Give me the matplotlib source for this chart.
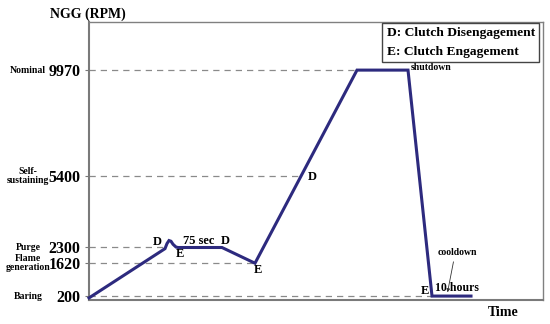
import matplotlib
matplotlib.use("Agg")
import matplotlib.pyplot as plt
from matplotlib.patches import Rectangle

plt.rcParams['font.family'] = ['Liberation Serif', 'DejaVu Serif']
plt.rcParams['font.weight'] = 'bold'

# Data
time = [0, 76, 78, 80, 82, 84, 87, 89, 133, 166, 268, 319, 343, 382]
ngg = [120, 2250, 2470, 2600, 2570, 2440, 2320, 2300, 2300, 1620, 9970, 9970, 200, 200]

levels = [9970, 5400, 2300, 1620, 200]
level_names = ["Nominal", "Self-\nsustaining", "Purge", "Flame\ngeneration", "Baring"]
level_dash_end = [268, 212, 77, 166, 343]

events = [("D", 68, 2535), ("E", 91, 2016), ("D", 136, 2580), ("E", 169, 1324),
          ("D", 223, 5345), ("E", 336, 416)]

line_color = "#2d2a7e"

fig = plt.figure(figsize=(5.5, 3.24), dpi=100)
ax = fig.add_axes([89/550, 24/324, 454/550, 278/324])
ax.set_xlim(0, 454)
ax.set_ylim(30, 12050)

for lv, xe in zip(levels, level_dash_end):
    ax.plot([0, xe], [lv, lv], color="#8a8a8a", lw=0.9, dashes=(5, 4), zorder=1)

ax.plot(time, ngg, color=line_color, lw=2.2, solid_joinstyle='miter', zorder=3, clip_on=False)

ax.set_xticks([])
ax.set_yticks(levels)
ax.set_yticklabels([str(v) for v in levels], fontsize=11.5, fontweight='bold')
ax.tick_params(axis='y', length=3, width=0.8, color="#777777", pad=3)

for s in ['top', 'right']:
    ax.spines[s].set_color("#808080")
    ax.spines[s].set_linewidth(1.0)
for s in ['left', 'bottom']:
    ax.spines[s].set_color("#7a7a7a")
    ax.spines[s].set_linewidth(1.5)

ytr = ax.get_yaxis_transform()
for lv, nm in zip(levels, level_names):
    ax.text(-0.134, lv, nm, transform=ytr, ha='center', va='center',
            fontsize=7, fontweight='bold', linespacing=0.95, clip_on=False)

for lab, x, y in events:
    ax.text(x, y, lab, ha='center', va='center', fontsize=9, fontweight='bold')

ax.text(110, 2580, "75 sec", ha='center', va='center', fontsize=9, fontweight='bold')
ax.text(322, 10100, "shutdown", ha='left', va='center', fontsize=7, fontweight='bold')
ax.text(368, 2102, "cooldown", ha='center', va='center', fontsize=7, fontweight='bold')
ax.text(368, 546, "10 hours", ha='center', va='center', fontsize=8.5, fontweight='bold')
ax.annotate("", xy=(358, 243), xytext=(365, 1800),
            arrowprops=dict(arrowstyle='-|>', color='#333333', lw=0.6, mutation_scale=5))

# legend-like box
ax.add_patch(Rectangle((0.645, 0.856), 0.346, 0.14, transform=ax.transAxes,
                       fill=False, edgecolor="#444444", lw=1.0, clip_on=False, zorder=4))
ax.text(0.656, 0.960, "D: Clutch Disengagement", transform=ax.transAxes,
        ha='left', va='center', fontsize=9.7, fontweight='bold')
ax.text(0.656, 0.892, "E: Clutch Engagement", transform=ax.transAxes,
        ha='left', va='center', fontsize=9.7, fontweight='bold')

fig.text(88/550, 1 - 14/324, "NGG (RPM)", ha='center', va='center', fontsize=10, fontweight='bold')
fig.text(503/550, 1 - 312/324, "Time", ha='center', va='center', fontsize=10, fontweight='bold')

fig.savefig("out.png", dpi=100)
